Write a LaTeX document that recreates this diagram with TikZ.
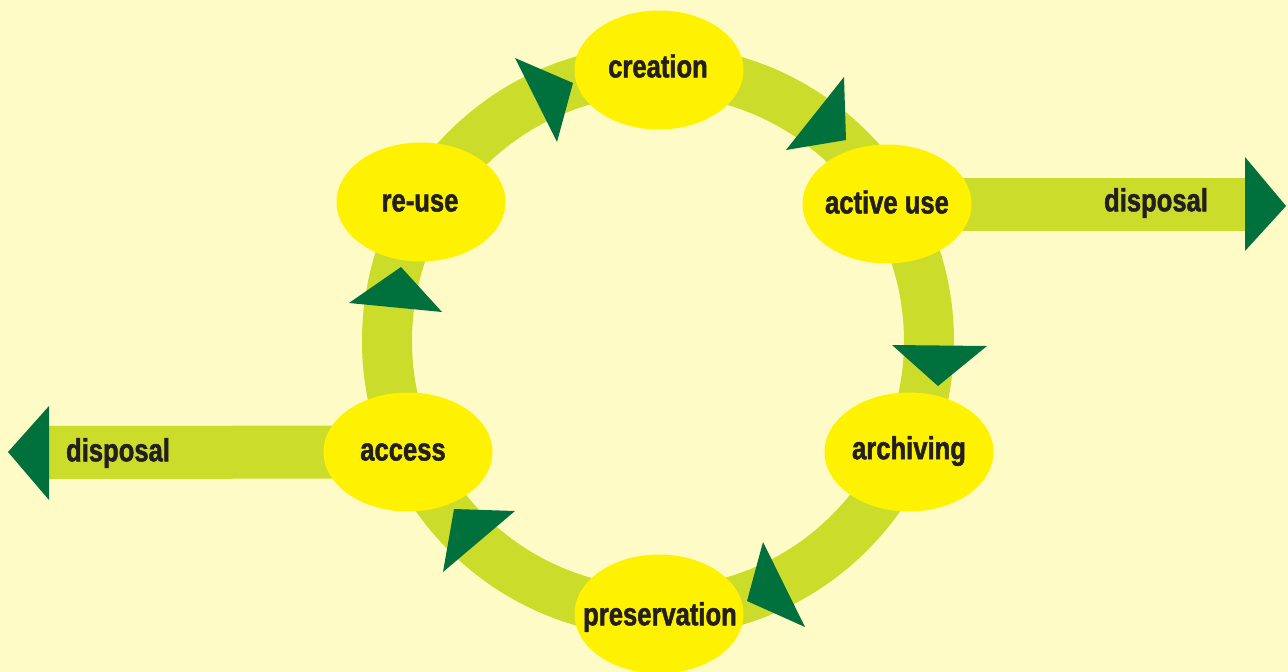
\documentclass[tikz,border=0pt]{standalone}
\usepackage{fontspec}
\setmainfont{Liberation Sans}[FakeStretch=0.8, BoldFeatures={FakeBold=1.5}]
\usetikzlibrary{shapes.geometric}
\definecolor{bg}{HTML}{FFFBC6}
\definecolor{ringc}{HTML}{CCDC2B}
\definecolor{ellc}{HTML}{FFF200}
\definecolor{dgreen}{HTML}{00713D}
\definecolor{txt}{HTML}{231F20}
\tikzset{
  stage/.style={ellipse, fill=ellc, minimum width=169pt, minimum height=119pt, inner sep=0pt},
  ringline/.style={draw=ringc, line width=50pt},
  shaft/.style={draw=ringc, line width=53pt},
  tri/.style={fill=dgreen},
  lbl/.style={font=\fontsize{32}{36}\selectfont\bfseries, text=txt, inner sep=0pt},
}
\begin{document}
\begin{tikzpicture}[x=1pt,y=-1pt]
\useasboundingbox (0,0) rectangle (1288,672);
\fill[bg] (0,0) rectangle (1288,672);
\coordinate (c) at (658,341);
\draw[ringline] (c) circle (271);
% stage positions
\coordinate (pcre) at (659,70);
\coordinate (pact) at (887,204);
\coordinate (parc) at (909,452);
\coordinate (ppre) at (659,614);
\coordinate (pacc) at (408,452);
\coordinate (preu) at (421,202);
% disposal shafts
\coordinate (rend) at (1246,204);
\coordinate (lend) at (48,452.5);
\draw[shaft] (pact) -- (rend);
\draw[shaft] (pacc) -- (lend);
\node[lbl] (rdisp) at (1156,203) {disposal};
\node[lbl] (ldisp) at (118,453) {disposal};
\fill[dgreen] (1245,157) -- (1286,206) -- (1245,251) -- cycle;
\fill[dgreen] (49,406) -- (8,452) -- (49,500) -- cycle;
% stages
\node[stage] (cre) at (pcre) {};
\node[stage] (act) at (pact) {};
\node[stage] (arc) at (parc) {};
\node[stage] (pre) at (ppre) {};
\node[stage] (acc) at (pacc) {};
\node[stage] (reu) at (preu) {};
\node[lbl] (tcre) at (658,66) {creation};
\node[lbl] (tact) at (887,202) {active use};
\node[lbl] (tarc) at (909,451) {archiving};
\node[lbl] (tpre) at (660,617) {preservation};
\node[lbl] (tacc) at (403,452) {access};
\node[lbl] (treu) at (420,203) {re-use};
% ring arrowheads
\fill[tri] (515,58) -- (573,83) -- (557,142) -- cycle;
\fill[tri] (844,77) -- (846,140) -- (786,150) -- cycle;
\fill[tri] (892,345) -- (987,346) -- (938,386) -- cycle;
\fill[tri] (763,542) -- (747,601) -- (805,627) -- cycle;
\fill[tri] (454,509) -- (515,511) -- (443,572) -- cycle;
\fill[tri] (401,267) -- (349,303) -- (442,312) -- cycle;
\end{tikzpicture}
\end{document}
